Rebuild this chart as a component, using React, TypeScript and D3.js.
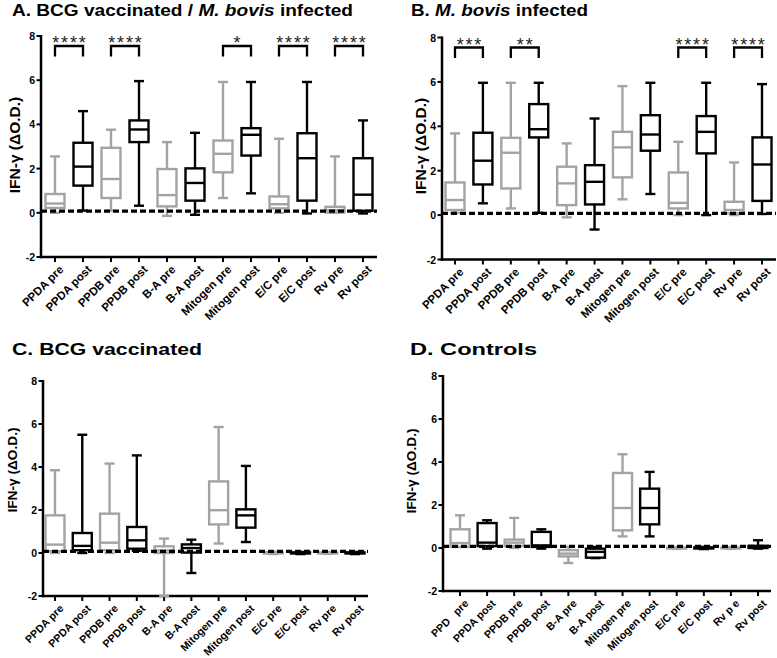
import React from 'react';
import * as d3 from 'd3';

const categories = ['PPDA pre', 'PPDA post', 'PPDB pre', 'PPDB post', 'B-A pre', 'B-A post', 'Mitogen pre', 'Mitogen post', 'E/C pre', 'E/C post', 'Rv pre', 'Rv post'];
const categoriesD = ['PPD   pre', 'PPDA post', 'PPDB pre', 'PPDB post', 'B-A pre', 'B-A post', 'Mitogen pre', 'Mitogen post', 'E/C pre', 'E/C post', 'Rv p e', 'Rv post'];
const yTicks = [-2, 0, 2, 4, 6, 8];
const thresholdValue = 0.08;

// [min, q1, median, q3, max]
const statsA = [
  [0.0, 0.22, 0.42, 0.85, 2.55],
  [0.1, 1.23, 2.09, 3.17, 4.6],
  [0.1, 0.67, 1.53, 2.94, 3.76],
  [0.32, 3.2, 3.77, 4.18, 5.96],
  [-0.14, 0.29, 0.8, 1.98, 3.2],
  [-0.09, 0.55, 1.35, 2.01, 3.62],
  [0.67, 1.83, 2.67, 3.27, 5.92],
  [0.88, 2.59, 3.53, 3.83, 5.92],
  [0.0, 0.2, 0.39, 0.74, 3.35],
  [-0.03, 0.55, 2.47, 3.6, 5.92],
  [0.0, 0.01, 0.12, 0.27, 2.55],
  [-0.03, 0.09, 0.82, 2.47, 4.18],
];
const statsB = [
  [0.1, 0.23, 0.68, 1.47, 3.68],
  [0.53, 1.38, 2.45, 3.71, 5.96],
  [0.3, 1.2, 2.81, 3.48, 5.96],
  [0.1, 3.5, 3.87, 5.0, 5.96],
  [-0.1, 0.45, 1.43, 2.18, 3.23],
  [-0.65, 0.48, 1.5, 2.25, 4.35],
  [0.71, 1.7, 3.05, 3.75, 5.81],
  [0.95, 2.9, 3.63, 4.5, 5.96],
  [0.0, 0.3, 0.55, 1.92, 3.3],
  [0.0, 2.78, 3.75, 4.46, 5.96],
  [0.0, 0.08, 0.23, 0.6, 2.37],
  [0.05, 0.64, 2.28, 3.5, 5.9],
];
const statsC = [
  [0.0, 0.08, 0.39, 1.75, 3.85],
  [0.0, 0.13, 0.33, 0.93, 5.5],
  [0.0, 0.13, 0.48, 1.83, 4.16],
  [0.1, 0.2, 0.59, 1.21, 4.54],
  [-2.0, 0.0, 0.12, 0.31, 0.67],
  [-0.93, 0.02, 0.23, 0.4, 0.62],
  [0.44, 1.33, 1.99, 3.33, 5.86],
  [0.51, 1.18, 1.75, 2.03, 4.05],
  [-0.05, -0.02, 0.0, 0.03, 0.05],
  [-0.05, -0.02, 0.0, 0.03, 0.05],
  [-0.04, -0.02, 0.0, 0.02, 0.04],
  [-0.05, -0.02, 0.0, 0.03, 0.05],
];
const statsD = [
  [0.05, 0.05, 0.23, 0.87, 1.52],
  [-0.03, 0.09, 0.25, 1.16, 1.29],
  [0.0, 0.09, 0.25, 0.39, 1.4],
  [-0.03, 0.05, 0.12, 0.75, 0.87],
  [-0.7, -0.39, -0.26, -0.1, 0.05],
  [-0.47, -0.45, -0.18, -0.03, 0.05],
  [0.54, 0.82, 1.86, 3.49, 4.36],
  [0.54, 1.1, 1.86, 2.76, 3.54],
  [-0.04, -0.02, 0.0, 0.02, 0.04],
  [-0.05, -0.02, 0.0, 0.03, 0.05],
  [-0.04, -0.02, 0.0, 0.02, 0.04],
  [-0.03, 0.0, 0.05, 0.1, 0.36],
];

// significance: pair index (0 = PPDA, 1 = PPDB, 2 = B-A, 3 = Mitogen, 4 = E/C, 5 = Rv)
const sigA = [{ pair: 0, label: '****' }, { pair: 1, label: '****' }, { pair: 3, label: '*' }, { pair: 4, label: '****' }, { pair: 5, label: '****' }];
const sigB = [{ pair: 0, label: '***' }, { pair: 1, label: '**' }, { pair: 4, label: '****' }, { pair: 5, label: '****' }];

const FONT = "'Liberation Sans', Arial, Helvetica, sans-serif";
const GRAY = '#a3a3a3';

type Panel = {
  letter: string;
  pre: string;
  italic?: string;
  post?: string;
  titleW: number;
  stats: number[][];
  labels: string[];
  sig: { pair: number; label: string }[];
  x0: number; xFirst: number; xLast: number; xEnd: number;
  yTop: number; yBottom: number;
  titleX: number; titleY: number;
  labelX: number; labelY: number; labelSize: number; catSize: number;
};

const panels: Panel[] = [
  { letter: 'A', pre: 'A. BCG vaccinated / ', italic: 'M. bovis', post: ' infected', titleW: 341, stats: statsA, labels: categories, sig: sigA,
    x0: 41, xFirst: 55, xLast: 363, xEnd: 377, yTop: 36, yBottom: 257, titleX: 12, titleY: 15.5, labelX: 14, labelY: 145, labelSize: 15.5, catSize: 11.5 },
  { letter: 'B', pre: 'B. ', italic: 'M. bovis', post: ' infected', titleW: 177, stats: statsB, labels: categories, sig: sigB,
    x0: 442, xFirst: 455, xLast: 762, xEnd: 776, yTop: 37.5, yBottom: 259.5, titleX: 411, titleY: 15.5, labelX: 420.5, labelY: 146, labelSize: 15.5, catSize: 11.5 },
  { letter: 'C', pre: 'C. BCG vaccinated', titleW: 190, stats: statsC, labels: categories, sig: [],
    x0: 43, xFirst: 55, xLast: 355, xEnd: 368, yTop: 381, yBottom: 596, titleX: 12, titleY: 355, labelX: 12.5, labelY: 470, labelSize: 13.7, catSize: 10.7 },
  { letter: 'D', pre: 'D. Controls', titleW: 127, stats: statsD, labels: categoriesD, sig: [],
    x0: 443, xFirst: 460, xLast: 758, xEnd: 771, yTop: 376, yBottom: 591, titleX: 410, titleY: 355, labelX: 411.5, labelY: 471, labelSize: 13.7, catSize: 10.7 },
];

function PanelView({ p }: { p: Panel }) {
  const y = d3.scaleLinear().domain([-2, 8]).range([p.yBottom, p.yTop]);
  const x = d3.scalePoint<string>().domain(d3.range(12).map(String)).range([p.xFirst, p.xLast]);
  const boxW = 19;
  const capW = 10;
  return (
    <g>
      <text x={p.titleX} y={p.titleY} fontFamily={FONT} fontWeight="bold" fontSize={17} fill="#000"
        textLength={p.titleW} lengthAdjust="spacingAndGlyphs">
        {p.pre}
        {p.italic && <tspan fontStyle="italic">{p.italic}</tspan>}
        {p.post}
      </text>
      <text transform={`translate(${p.labelX},${p.labelY}) rotate(-90)`} textAnchor="middle" dominantBaseline="central"
        fontFamily={FONT} fontWeight="bold" fontSize={p.labelSize}>IFN-γ (ΔO.D.)</text>
      {/* y axis */}
      <line x1={p.x0} x2={p.x0} y1={y(8) - 1} y2={p.yBottom + 1.25} stroke="#000" strokeWidth={2.5} />
      {yTicks.map(t => (
        <g key={t}>
          <line x1={p.x0 - 4.5} x2={p.x0} y1={y(t)} y2={y(t)} stroke="#000" strokeWidth={2} />
          <text x={p.x0 - 6} y={y(t)} textAnchor="end" dominantBaseline="central" fontFamily={FONT} fontWeight="bold" fontSize={10.5}>{t}</text>
        </g>
      ))}
      {/* x axis */}
      <line x1={p.x0 - 1.25} x2={p.xEnd} y1={p.yBottom} y2={p.yBottom} stroke="#000" strokeWidth={2.5} />
      {p.labels.map((lab, i) => {
        const cx = x(String(i))!;
        return (
          <g key={i}>
            <line x1={cx} x2={cx} y1={p.yBottom} y2={p.yBottom + 5} stroke="#000" strokeWidth={2} />
            <text transform={`translate(${cx + 3.5},${p.yBottom + 7.5}) rotate(-45)`} textAnchor="end" dominantBaseline="hanging"
              fontFamily={FONT} fontWeight="bold" fontSize={p.catSize} style={{ whiteSpace: 'pre' }}>{lab}</text>
          </g>
        );
      })}
      {/* boxes */}
      {p.stats.map((s, i) => {
        const cx = x(String(i))!;
        const col = i % 2 === 0 ? GRAY : '#000';
        const [mn, q1, md, q3, mx] = s;
        return (
          <g key={i} stroke={col} strokeWidth={2.4} fill="none">
            <line x1={cx} x2={cx} y1={y(q3)} y2={y(mx)} />
            <line x1={cx} x2={cx} y1={y(q1)} y2={y(mn)} />
            <line x1={cx - capW / 2} x2={cx + capW / 2} y1={y(mx)} y2={y(mx)} />
            <line x1={cx - capW / 2} x2={cx + capW / 2} y1={y(mn)} y2={y(mn)} />
            <rect x={cx - boxW / 2} y={y(q3)} width={boxW} height={Math.max(0.5, y(q1) - y(q3))} fill="#fff" />
            <line x1={cx - boxW / 2} x2={cx + boxW / 2} y1={y(md)} y2={y(md)} />
          </g>
        );
      })}
      {/* threshold */}
      <line x1={p.x0} x2={p.xEnd} y1={y(thresholdValue)} y2={y(thresholdValue)} stroke="#000" strokeWidth={3.2} strokeDasharray="6,3" />
      {/* significance */}
      {p.sig.map((s, k) => {
        const xa = x(String(s.pair * 2))!;
        const xb = x(String(s.pair * 2 + 1))!;
        const top = p.yTop + 10;
        return (
          <g key={k}>
            <path d={`M${xa},${top + 10.5}V${top}H${xb}V${top + 10.5}`} fill="none" stroke="#000" strokeWidth={2.3} />
            <text x={(xa + xb) / 2 + 0.9} y={top + 3} textAnchor="middle" fontFamily={FONT} fontSize={18} fill="#222" letterSpacing={1.8}>{s.label}</text>
          </g>
        );
      })}
    </g>
  );
}

export default function App() {
  return (
    <svg width={777} height={658} style={{ display: 'block', position: 'absolute', left: 0, top: 0, background: '#fff' }}>
      <rect width={777} height={658} fill="#fff" />
      {panels.map(p => <PanelView key={p.letter} p={p} />)}
    </svg>
  );
}
